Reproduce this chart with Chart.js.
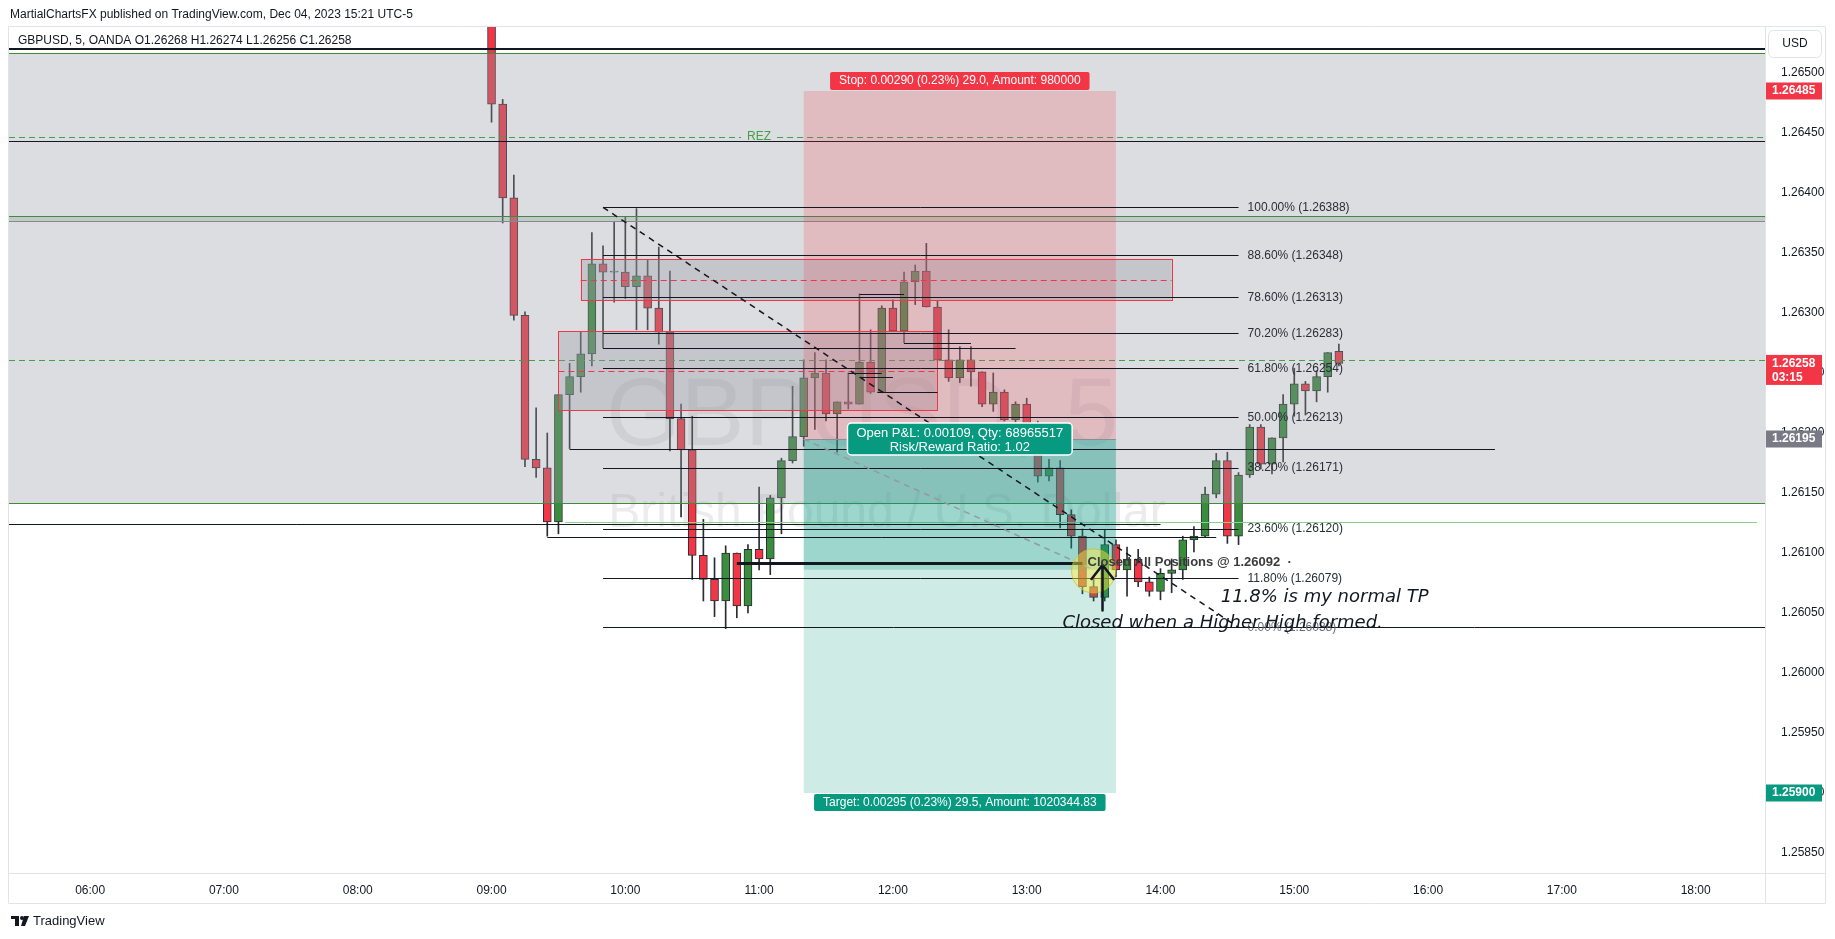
<!DOCTYPE html>
<html>
<head>
<meta charset="utf-8">
<script src="https://cdn.jsdelivr.net/npm/chart.js@4.4.0/dist/chart.umd.min.js"></script>
<style>
html,body{margin:0;padding:0;background:#fff;overflow:hidden}
canvas{display:block}
</style>
</head>
<body>
<canvas id="chart" width="1835" height="939"></canvas>
<script>
// GBPUSD 5m candles, 09:00 - 15:20
const candleTimes = ['09:00','09:05','09:10','09:15','09:20','09:25','09:30','09:35','09:40','09:45','09:50','09:55',
  '10:00','10:05','10:10','10:15','10:20','10:25','10:30','10:35','10:40','10:45','10:50','10:55',
  '11:00','11:05','11:10','11:15','11:20','11:25','11:30','11:35','11:40','11:45','11:50','11:55',
  '12:00','12:05','12:10','12:15','12:20','12:25','12:30','12:35','12:40','12:45','12:50','12:55',
  '13:00','13:05','13:10','13:15','13:20','13:25','13:30','13:35','13:40','13:45','13:50','13:55',
  '14:00','14:05','14:10','14:15','14:20','14:25','14:30','14:35','14:40','14:45','14:50','14:55',
  '15:00','15:05','15:10','15:15','15:20'];

const opens = [1.26600,1.26474,1.26396,1.26298,1.26178,1.26171,1.26126,1.26232,1.26247,1.26266,
  1.26341,1.26334,1.26334,1.26322,1.26331,1.26304,1.26284,1.26212,1.26186,1.26098,
  1.26078,1.26060,1.26100,1.26056,1.26103,1.26095,1.26146,1.26177,1.26197,1.26246,
  1.26250,1.26216,1.26226,1.26224,1.26259,1.26234,1.26304,1.26285,1.26326,1.26335,
  1.26305,1.26261,1.26246,1.26261,1.26251,1.26224,1.26234,1.26211,1.26224,1.26208,
  1.26164,1.26171,1.26132,1.26114,1.26072,1.26063,1.26107,1.26086,1.26095,1.26076,
  1.26068,1.26083,1.26086,1.26111,1.26114,1.26149,1.26177,1.26114,1.26165,1.26205,
  1.26174,1.26196,1.26224,1.26241,1.26235,1.26247,1.26268];
const highs = [1.26620,1.26478,1.26415,1.26301,1.26221,1.26200,1.26232,1.26258,1.26284,1.26367,
  1.26356,1.26376,1.26380,1.26387,1.26344,1.26355,1.26335,1.26224,1.26214,1.26128,
  1.26096,1.26106,1.26100,1.26107,1.26155,1.26148,1.26179,1.26239,1.26261,1.26267,
  1.26261,1.26226,1.26250,1.26316,1.26286,1.26306,1.26311,1.26334,1.26340,1.26358,
  1.26310,1.26286,1.26272,1.26272,1.26251,1.26250,1.26236,1.26226,1.26229,1.26210,
  1.26178,1.26177,1.26136,1.26120,1.26080,1.26119,1.26111,1.26105,1.26103,1.26080,
  1.26087,1.26095,1.26114,1.26122,1.26155,1.26183,1.26184,1.26167,1.26207,1.26207,
  1.26196,1.26232,1.26254,1.26243,1.26252,1.26267,1.26274];
const lows = [1.26459,1.26375,1.26294,1.26172,1.26163,1.26114,1.26116,1.26187,1.26234,1.26256,
  1.26271,1.26309,1.26312,1.26286,1.26286,1.26274,1.26185,1.26130,1.26078,1.26060,
  1.26047,1.26037,1.26046,1.26050,1.26086,1.26082,1.26116,1.26175,1.26189,1.26203,
  1.26210,1.26184,1.26220,1.26224,1.26233,1.26234,1.26285,1.26275,1.26307,1.26305,
  1.26260,1.26243,1.26242,1.26239,1.26222,1.26218,1.26210,1.26209,1.26208,1.26159,
  1.26160,1.26121,1.26104,1.26066,1.26060,1.26060,1.26080,1.26064,1.26072,1.26064,
  1.26061,1.26067,1.26078,1.26101,1.26113,1.26146,1.26108,1.26107,1.26163,1.26170,
  1.26166,1.26176,1.26214,1.26215,1.26226,1.26234,1.26256];
const closes = [1.26474,1.26396,1.26298,1.26178,1.26171,1.26126,1.26232,1.26247,1.26266,1.26341,
  1.26334,1.26334,1.26322,1.26331,1.26304,1.26284,1.26212,1.26186,1.26098,1.26078,
  1.26060,1.26100,1.26056,1.26103,1.26095,1.26146,1.26177,1.26197,1.26246,1.26250,
  1.26216,1.26226,1.26224,1.26259,1.26234,1.26304,1.26285,1.26326,1.26335,1.26305,
  1.26261,1.26246,1.26261,1.26251,1.26224,1.26234,1.26211,1.26224,1.26208,1.26164,
  1.26171,1.26132,1.26114,1.26072,1.26063,1.26107,1.26086,1.26095,1.26076,1.26068,
  1.26083,1.26086,1.26111,1.26114,1.26149,1.26177,1.26114,1.26165,1.26205,1.26174,
  1.26196,1.26224,1.26241,1.26235,1.26247,1.26267,1.26258];

const hourTicks = ['06:00','07:00','08:00','09:00','10:00','11:00','12:00','13:00','14:00','15:00','16:00','17:00','18:00'];
const priceTicks = [1.25850,1.25900,1.25950,1.26000,1.26050,1.26100,1.26150,1.26200,1.26250,1.26300,1.26350,1.26400,1.26450,1.26500];

// fibonacci retracement
const fibLevels = [1, 0.886, 0.786, 0.702, 0.618, 0.5, 0.382, 0.236, 0.118, 0];
const fibPrices = [1.26388, 1.26348, 1.26313, 1.26283, 1.26254, 1.26213, 1.26171, 1.26120, 1.26079, 1.26038];
const fibStart = '09:50', fibEnd = '14:35';

// short position
const entryPrice = 1.26195, stopPrice = 1.26485, targetPrice = 1.25900, closedPrice = 1.26086;
const posStart = '11:20', posEnd = '13:40', closedTime = '13:30';
const lastPrice = 1.26258;

// zones and horizontal levels
const zoneTop = 1.265167, zoneBottom = 1.261417;
const bandTop = 1.263808, bandBottom = 1.263767;
const supplyZones = [
  {top:1.263448, bottom:1.263106, from:'09:40', to:'14:05'},
  {top:1.262847, bottom:1.262189, from:'09:30', to:'12:20'}
];
const levelLines = [
  {p:1.26124, from:null, to:'14:00'},
  {p:1.26187, from:'09:35', to:'16:30'},
  {p:1.26113, from:'09:25', to:'14:25'},
  {p:1.26271, from:'09:50', to:'12:55'},
  {p:1.26275, from:'12:05', to:'12:35'},
  {p:1.26316, from:'11:45', to:'12:05'},
  {p:1.26250, from:'11:40', to:'11:55'},
  {p:1.26247, from:'11:45', to:'12:00'},
  {p:1.26234, from:'11:53', to:'12:20'}
];
const rezPrice = 1.264467, rezLine = 1.264433, topLine = 1.26520, greenDash = 1.262606, lightGreen = 1.261256;

const toMin = t => { const [h,m] = t.split(':').map(Number); return h*60+m; };
const pad = n => String(n).padStart(2,'0');
const fmtMin = v => pad(Math.floor(v/60)) + ':' + pad(Math.round(v%60));

const upColor = '#388e3c', downColor = '#f23645';
const UI = '"Liberation Sans", Arial, sans-serif';

function roundRect(ctx,x,y,w,h,r){
  ctx.beginPath();
  ctx.moveTo(x+r,y);
  ctx.arcTo(x+w,y,x+w,y+h,r);
  ctx.arcTo(x+w,y+h,x,y+h,r);
  ctx.arcTo(x,y+h,x,y,r);
  ctx.arcTo(x,y,x+w,y,r);
  ctx.closePath();
}

const drawings = {
  id:'drawings',
  beforeDatasetsDraw(chart){
    const {ctx, chartArea:a} = chart;
    ctx.save();
    ctx.fillStyle = 'rgba(120,123,134,0.14)';
    ctx.textAlign = 'center';
    ctx.textBaseline = 'alphabetic';
    ctx.font = '96px ' + UI;
    ctx.fillText('GBPUSD, 5', 862, 445);
    ctx.font = '48px ' + UI;
    ctx.fillText('British Pound / U.S. Dollar', (a.left+a.right)/2, 527);
    ctx.restore();
  },
  afterDatasetsDraw(chart){
    const {ctx, chartArea:a, scales:{x, y}} = chart;
    const X = t => x.getPixelForValue(typeof t === 'string' ? toMin(t) : t);
    const Y = p => y.getPixelForValue(p);
    const L = a.left, R = a.right;
    const hline = (p, x0, x1, color, w, dash) => {
      const yy = Math.round(Y(p)) + (w % 2 ? 0.5 : 0);
      ctx.save();
      ctx.strokeStyle = color; ctx.lineWidth = w;
      ctx.setLineDash(dash || []);
      ctx.beginPath(); ctx.moveTo(x0, yy); ctx.lineTo(x1, yy); ctx.stroke();
      ctx.restore();
    };
    ctx.save();
    ctx.beginPath(); ctx.rect(a.left, a.top, a.right-a.left, a.bottom-a.top); ctx.clip();

    // big grey zone
    ctx.fillStyle = 'rgba(149,152,161,0.33)';
    ctx.fillRect(L, Y(zoneTop), R-L, Y(zoneBottom)-Y(zoneTop));
    ctx.fillRect(L, Y(bandTop), R-L, Y(bandBottom)-Y(bandTop));
    hline(zoneTop, L, R, upColor, 1);
    hline(zoneBottom, L, R, upColor, 1);
    hline(bandTop, L, R, upColor, 1);
    hline(bandBottom, L, R, '#7f8f83', 1);
    hline(topLine, L, R, '#131722', 2);
    hline(rezLine, L, R, '#131722', 1);
    // REZ dashed line with label
    const rx = X('11:00');
    hline(rezPrice, L, rx-18, '#43a047', 1, [6,4]);
    hline(rezPrice, rx+18, R, '#43a047', 1, [6,4]);
    ctx.fillStyle = '#43a047'; ctx.font = '12px ' + UI;
    ctx.textAlign = 'center'; ctx.textBaseline = 'middle';
    ctx.fillText('REZ', rx, Y(rezPrice));
    hline(greenDash, L, R, '#43a047', 1, [6,4]);
    hline(lightGreen, X('09:33'), R-8, '#8ccf8f', 1);

    // supply zones
    supplyZones.forEach(z => {
      const x0 = X(z.from), x1 = X(z.to), y0 = Y(z.top), y1 = Y(z.bottom);
      ctx.fillStyle = 'rgba(149,152,161,0.33)';
      ctx.fillRect(x0, y0, x1-x0, y1-y0);
      ctx.strokeStyle = downColor; ctx.lineWidth = 1;
      ctx.strokeRect(Math.round(x0)+0.5, Math.round(y0)+0.5, Math.round(x1-x0), Math.round(y1-y0));
      hline((z.top+z.bottom)/2, x0, x1, downColor, 1, [6,4]);
    });

    // position tool
    const px0 = X(posStart), px1 = X(posEnd);
    ctx.fillStyle = 'rgba(242,54,69,0.2)';
    ctx.fillRect(px0, Y(stopPrice), px1-px0, Y(entryPrice)-Y(stopPrice));
    ctx.fillStyle = 'rgba(8,153,129,0.4)';
    ctx.fillRect(px0, Y(entryPrice), px1-px0, Y(closedPrice)-Y(entryPrice));
    ctx.fillStyle = 'rgba(8,153,129,0.2)';
    ctx.fillRect(px0, Y(closedPrice), px1-px0, Y(targetPrice)-Y(closedPrice));
    hline(entryPrice, px0, px1, '#8a8d96', 1);

    // plain level lines
    levelLines.forEach(l => hline(l.p, l.from ? X(l.from) : L, X(l.to), '#131722', 1));

    // fibonacci
    const fx0 = X(fibStart), fx1 = X(fibEnd);
    ctx.font = '12px ' + UI; ctx.textAlign = 'left'; ctx.textBaseline = 'middle';
    fibLevels.forEach((lv, i) => {
      hline(fibPrices[i], fx0, lv === 0 ? R : fx1, '#131722', 1);
      ctx.fillStyle = lv === 0 ? '#6a6d78' : '#2a2e39';
      ctx.fillText((lv*100).toFixed(2) + '% (' + fibPrices[i].toFixed(5) + ')', fx1 + 9, Y(fibPrices[i]));
    });
    ctx.save();
    ctx.strokeStyle = '#131722'; ctx.lineWidth = 1.5; ctx.setLineDash([6,5]);
    ctx.beginPath(); ctx.moveTo(fx0, Y(fibPrices[0])); ctx.lineTo(fx1, Y(fibPrices[fibPrices.length-1])); ctx.stroke();
    ctx.strokeStyle = '#9598a1';
    ctx.beginPath(); ctx.moveTo(px0, Y(entryPrice)); ctx.lineTo(X(closedTime), Y(closedPrice)); ctx.stroke();
    ctx.restore();

    // closed marker
    hline(1.26092, X('10:50'), X('13:25'), '#131722', 3);
    ctx.beginPath(); ctx.arc(X(closedTime), Y(1.26085), 22, 0, Math.PI*2);
    ctx.fillStyle = 'rgba(255,235,59,0.45)'; ctx.fill();
    ctx.strokeStyle = 'rgba(205,190,40,0.7)'; ctx.lineWidth = 1; ctx.stroke();
    const ax = X('13:34');
    ctx.save();
    ctx.strokeStyle = '#131722'; ctx.lineWidth = 2.5; ctx.lineCap = 'round';
    ctx.beginPath(); ctx.moveTo(ax, Y(1.26052)); ctx.lineTo(ax, Y(1.26090));
    ctx.moveTo(ax-11, Y(1.26090)+14); ctx.lineTo(ax, Y(1.26090)); ctx.lineTo(ax+11, Y(1.26090)+14);
    ctx.stroke();
    ctx.restore();
    ctx.fillStyle = '#3b3b3b'; ctx.font = 'bold 13px ' + UI;
    ctx.textAlign = 'left'; ctx.textBaseline = 'middle';
    ctx.fillText('Closed All Positions @ 1.26092  \u00b7', X(closedTime)-6, Y(1.26092));

    // notes
    ctx.fillStyle = '#131722';
    ctx.font = 'italic 18px "DejaVu Sans", sans-serif';
    ctx.fillText('11.8% is my normal TP', X('14:27'), Y(1.26063));
    ctx.fillText('Closed when a Higher High formed.', X('13:16'), Y(1.26041));

    // position labels
    const cx = (px0 + px1) / 2;
    ctx.font = '12px ' + UI; ctx.textAlign = 'center'; ctx.textBaseline = 'middle';
    const stopTxt = 'Stop: 0.00290 (0.23%) 29.0, Amount: 980000';
    let w = ctx.measureText(stopTxt).width + 18;
    roundRect(ctx, cx - w/2, Y(stopPrice) - 19, w, 18, 2); ctx.fillStyle = downColor; ctx.fill();
    ctx.fillStyle = '#fff'; ctx.fillText(stopTxt, cx, Y(stopPrice) - 10);
    const tgtTxt = 'Target: 0.00295 (0.23%) 29.5, Amount: 1020344.83';
    w = ctx.measureText(tgtTxt).width + 18;
    roundRect(ctx, cx - w/2, Y(targetPrice) + 1, w, 17, 2); ctx.fillStyle = '#089981'; ctx.fill();
    ctx.fillStyle = '#fff'; ctx.fillText(tgtTxt, cx, Y(targetPrice) + 10);
    ctx.font = '13px ' + UI;
    const pl1 = 'Open P&L: 0.00109, Qty: 68965517', pl2 = 'Risk/Reward Ratio: 1.02';
    w = ctx.measureText(pl1).width + 18;
    const by = Y(entryPrice) - 16;
    roundRect(ctx, cx - w/2, by, w, 32, 4);
    ctx.fillStyle = '#089981'; ctx.fill();
    ctx.strokeStyle = '#ffffff'; ctx.lineWidth = 1.5; ctx.stroke();
    ctx.save();
    ctx.beginPath(); ctx.rect(cx - w/2, by, w, 28); ctx.clip();
    ctx.fillStyle = '#fff';
    ctx.fillText(pl1, cx, by + 10);
    ctx.fillText(pl2, cx, by + 24);
    ctx.restore();

    ctx.restore();
  },
  afterDraw(chart){
    const {ctx, chartArea:a, scales:{y}} = chart;
    const Y = p => y.getPixelForValue(p);
    ctx.save();
    // frame
    ctx.strokeStyle = '#e0e3eb'; ctx.lineWidth = 1;
    ctx.beginPath();
    ctx.moveTo(a.left-0.5, a.top-0.5); ctx.lineTo(1825.5, a.top-0.5);
    ctx.moveTo(a.left-0.5, a.top-0.5); ctx.lineTo(a.left-0.5, 903.5);
    ctx.moveTo(a.right+0.5, a.top); ctx.lineTo(a.right+0.5, 903.5);
    ctx.moveTo(1825.5, a.top); ctx.lineTo(1825.5, 903.5);
    ctx.moveTo(a.left, a.bottom+0.5); ctx.lineTo(1825.5, a.bottom+0.5);
    ctx.moveTo(a.left, 903.5); ctx.lineTo(1825.5, 903.5);
    ctx.stroke();

    // USD button
    roundRect(ctx, 1768.5, 30.5, 53, 27, 5);
    ctx.fillStyle = '#fff'; ctx.fill(); ctx.strokeStyle = '#e0e3eb'; ctx.stroke();
    ctx.fillStyle = '#131722'; ctx.font = '12px ' + UI;
    ctx.textAlign = 'center'; ctx.textBaseline = 'middle';
    ctx.fillText('USD', 1795, 44);

    // price scale labels
    const tag = (p, bg, lines) => {
      const h = lines.length > 1 ? 30 : 17;
      const top = Y(p) - 8.5;
      ctx.fillStyle = bg;
      ctx.fillRect(a.right+1, top, 56, h);
      ctx.fillStyle = '#fff'; ctx.font = 'bold 12px ' + UI;
      ctx.textAlign = 'left'; ctx.textBaseline = 'middle';
      lines.forEach((t, i) => ctx.fillText(t, a.right+7, top + 8.5 + i*14));
    };
    tag(stopPrice, '#f23645', [stopPrice.toFixed(5)]);
    tag(lastPrice, '#f23645', [lastPrice.toFixed(5), '03:15']);
    tag(entryPrice, '#787b86', [entryPrice.toFixed(5)]);
    tag(targetPrice, '#089981', [targetPrice.toFixed(5)]);

    // header and legend
    ctx.fillStyle = '#131722'; ctx.textAlign = 'left'; ctx.textBaseline = 'middle';
    ctx.font = '12px ' + UI;
    ctx.fillText('MartialChartsFX published on TradingView.com, Dec 04, 2023 15:21 UTC-5', 10, 15);
    ctx.fillText('GBPUSD, 5, OANDA O1.26268 H1.26274 L1.26256 C1.26258', 18, 41);

    // footer logo
    ctx.fillStyle = '#131722';
    ctx.fillRect(11, 916, 8, 3);
    ctx.fillRect(15, 916, 4, 10);
    ctx.beginPath(); ctx.arc(22, 918, 2, 0, Math.PI*2); ctx.fill();
    ctx.beginPath(); ctx.moveTo(24, 916); ctx.lineTo(29, 916); ctx.lineTo(25, 926); ctx.lineTo(21, 926); ctx.closePath(); ctx.fill();
    ctx.font = '13px ' + UI;
    ctx.fillText('TradingView', 33, 921);
    ctx.restore();
  }
};

const bodies = candleTimes.map((t, i) => ({x: toMin(t), y: [Math.min(opens[i], closes[i]), Math.max(opens[i], closes[i])]}));
const wicks = candleTimes.map((t, i) => ({x: toMin(t), y: [lows[i], highs[i]]}));
const candleColors = closes.map((c, i) => c >= opens[i] ? upColor : downColor);

new Chart(document.getElementById('chart'), {
  type: 'bar',
  data: {
    datasets: [
      {label:'body', data: bodies, backgroundColor: candleColors, borderColor:'#2a2c33', borderWidth:1,
       borderSkipped:false, barThickness:8, minBarLength:1, grouped:false},
      {label:'wick', data: wicks, backgroundColor:'#2a2c33', borderWidth:0, barThickness:1, grouped:false}
    ]
  },
  options: {
    responsive: false,
    devicePixelRatio: 1,
    animation: false,
    events: [],
    layout: {padding: {left: 9, top: 27, right: 10, bottom: 36}},
    plugins: {legend: {display: false}, tooltip: {enabled: false}},
    scales: {
      x: {
        type: 'linear', position: 'bottom', offset: false,
        min: 323.6, max: 1111.1,
        grid: {display: false}, border: {display: false},
        afterBuildTicks: s => { s.ticks = hourTicks.map(t => ({value: toMin(t)})); },
        afterFit: s => { s.height = 30; },
        ticks: {autoSkip: false, maxRotation: 0, padding: 2, color: '#131722',
                font: {family: 'Liberation Sans', size: 12}, callback: v => fmtMin(v)}
      },
      y: {
        type: 'linear', position: 'right',
        min: 1.2583333, max: 1.2653833,
        grid: {display: false}, border: {display: false},
        afterBuildTicks: s => { s.ticks = priceTicks.map(v => ({value: v})); },
        afterFit: s => { s.width = 60; },
        ticks: {autoSkip: false, padding: 8, color: '#131722',
                font: {family: 'Liberation Sans', size: 12}, callback: v => v.toFixed(5)}
      }
    }
  },
  plugins: [drawings]
});
</script>
</body>
</html>
